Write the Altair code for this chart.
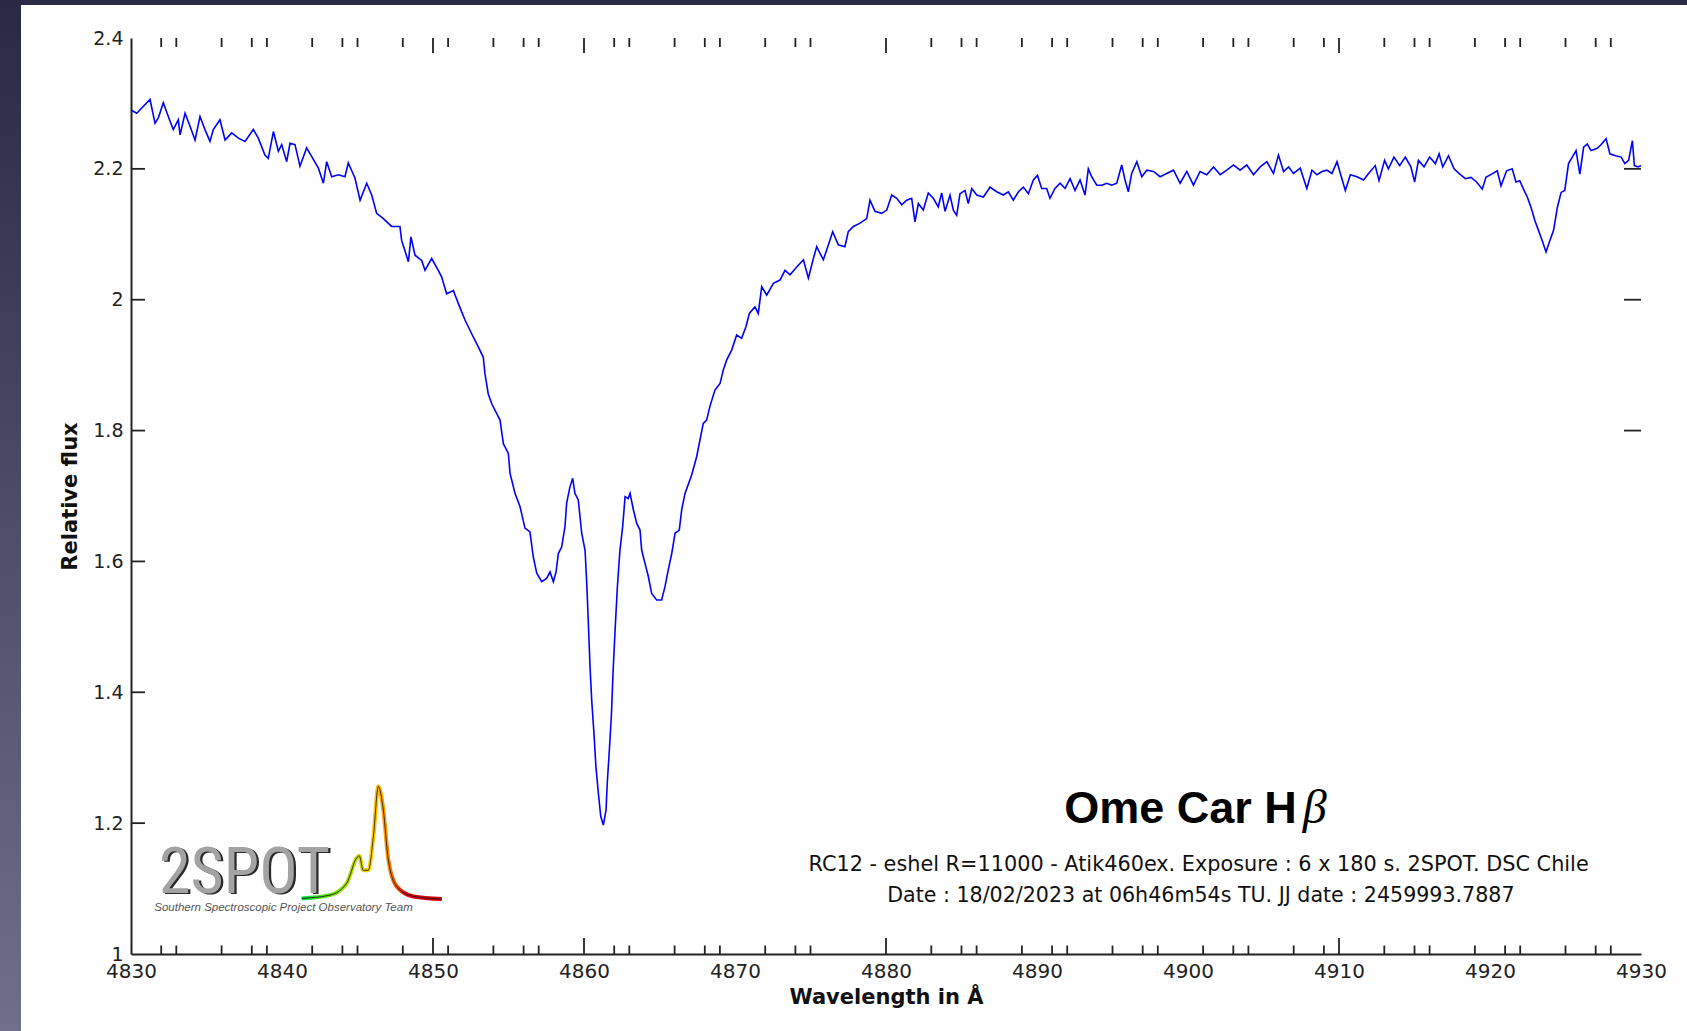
import altair as alt
import pandas as pd

# ---------------- data ----------------
wavelength = [
    4830.00, 4830.38, 4830.71, 4831.26, 4831.59, 4831.81, 4832.14, 4832.47, 4832.80, 4833.13,
    4833.25, 4833.58, 4833.91, 4834.24, 4834.57, 4834.90, 4835.23, 4835.45, 4835.89, 4836.23,
    4836.67, 4837.11, 4837.55, 4838.10, 4838.43, 4838.87, 4839.09, 4839.43, 4839.76, 4839.98,
    4840.31, 4840.53, 4840.86, 4841.19, 4841.63, 4841.96, 4842.41, 4842.74, 4842.96, 4843.29,
    4843.73, 4844.17, 4844.39, 4844.83, 4845.17, 4845.61, 4845.94, 4846.27, 4846.71, 4847.26,
    4847.81, 4847.92, 4848.37, 4848.54, 4848.81, 4849.25, 4849.47, 4849.91, 4850.35, 4850.57,
    4850.90, 4851.35, 4851.68, 4852.12, 4852.56, 4853.00, 4853.33, 4853.44, 4853.66, 4853.89,
    4854.44, 4854.66, 4854.99, 4855.10, 4855.43, 4855.76, 4856.09, 4856.42, 4856.64, 4856.87,
    4857.20, 4857.53, 4857.75, 4857.97, 4858.15, 4858.30, 4858.52, 4858.74, 4858.85, 4859.07,
    4859.25, 4859.40, 4859.62, 4859.85, 4860.07, 4860.18, 4860.28, 4860.40, 4860.51, 4860.66,
    4860.79, 4860.95, 4861.11, 4861.28, 4861.46, 4861.54, 4861.68, 4861.81, 4861.94, 4862.07,
    4862.21, 4862.38, 4862.56, 4862.72, 4862.93, 4863.05, 4863.27, 4863.49, 4863.71, 4863.82,
    4864.04, 4864.26, 4864.48, 4864.81, 4865.14, 4865.36, 4865.58, 4865.81, 4866.03, 4866.31,
    4866.47, 4866.69, 4867.13, 4867.46, 4867.64, 4867.90, 4868.12, 4868.34, 4868.67, 4869.01,
    4869.23, 4869.45, 4869.78, 4870.11, 4870.44, 4870.73, 4870.95, 4871.32, 4871.54, 4871.77,
    4872.10, 4872.54, 4872.98, 4873.31, 4873.64, 4874.09, 4874.53, 4874.86, 4875.19, 4875.41,
    4875.85, 4876.07, 4876.47, 4876.84, 4877.28, 4877.50, 4877.84, 4878.28, 4878.72, 4878.94,
    4879.27, 4879.71, 4880.05, 4880.38, 4880.71, 4881.04, 4881.37, 4881.70, 4881.92, 4882.14,
    4882.47, 4882.80, 4883.13, 4883.46, 4883.69, 4883.91, 4884.24, 4884.46, 4884.68, 4884.90,
    4885.23, 4885.45, 4885.68, 4886.01, 4886.45, 4886.89, 4887.33, 4887.77, 4888.10, 4888.43,
    4888.77, 4889.10, 4889.43, 4889.76, 4890.03, 4890.31, 4890.64, 4890.86, 4891.19, 4891.53,
    4891.86, 4892.19, 4892.52, 4892.85, 4893.18, 4893.40, 4893.62, 4893.96, 4894.29, 4894.62,
    4894.95, 4895.28, 4895.61, 4895.83, 4896.05, 4896.27, 4896.61, 4896.94, 4897.27, 4897.71,
    4898.15, 4898.59, 4899.04, 4899.48, 4899.92, 4900.36, 4900.80, 4901.24, 4901.69, 4902.13,
    4902.57, 4903.01, 4903.45, 4903.89, 4904.34, 4904.78, 4905.22, 4905.66, 4905.99, 4906.33,
    4906.66, 4906.99, 4907.43, 4907.87, 4908.21, 4908.54, 4908.87, 4909.20, 4909.53, 4909.87,
    4910.09, 4910.42, 4910.75, 4911.19, 4911.63, 4911.96, 4912.40, 4912.65, 4913.02, 4913.27,
    4913.64, 4914.02, 4914.39, 4914.76, 4915.01, 4915.26, 4915.63, 4916.00, 4916.38, 4916.63,
    4916.87, 4917.25, 4917.62, 4918.00, 4918.37, 4918.74, 4919.11, 4919.49, 4919.73, 4920.11,
    4920.48, 4920.73, 4921.10, 4921.47, 4921.72, 4921.97, 4922.22, 4922.47, 4922.72, 4922.97,
    4923.21, 4923.46, 4923.71, 4923.96, 4924.21, 4924.46, 4924.71, 4924.95, 4925.20, 4925.45,
    4925.70, 4925.95, 4926.20, 4926.44, 4926.69, 4927.07, 4927.32, 4927.69, 4927.94, 4928.31,
    4928.69, 4928.93, 4929.18, 4929.43, 4929.56, 4929.81, 4930.00,
]
flux = [
    2.290, 2.285, 2.293, 2.306, 2.270, 2.278, 2.301, 2.280, 2.260, 2.275,
    2.252, 2.285, 2.265, 2.244, 2.280, 2.260, 2.242, 2.260, 2.275, 2.244,
    2.255, 2.247, 2.242, 2.260, 2.247, 2.221, 2.216, 2.257, 2.227, 2.237,
    2.211, 2.239, 2.237, 2.204, 2.232, 2.219, 2.201, 2.178, 2.211, 2.188,
    2.191, 2.188, 2.209, 2.186, 2.152, 2.178, 2.160, 2.132, 2.124, 2.112,
    2.112, 2.091, 2.058, 2.096, 2.068, 2.060, 2.045, 2.063, 2.045, 2.035,
    2.009, 2.014, 1.994, 1.969, 1.948, 1.928, 1.912, 1.887, 1.856, 1.841,
    1.816, 1.780, 1.765, 1.735, 1.704, 1.684, 1.651, 1.645, 1.607, 1.582,
    1.569, 1.574, 1.584, 1.569, 1.584, 1.612, 1.622, 1.653, 1.689, 1.714,
    1.727, 1.704, 1.694, 1.643, 1.617, 1.567, 1.511, 1.439, 1.388, 1.337,
    1.286, 1.246, 1.210, 1.197, 1.220, 1.261, 1.312, 1.363, 1.439, 1.500,
    1.561, 1.617, 1.653, 1.699, 1.696, 1.704, 1.679, 1.658, 1.648, 1.617,
    1.597, 1.577, 1.551, 1.541, 1.541, 1.561, 1.587, 1.612, 1.643, 1.648,
    1.679, 1.704, 1.732, 1.760, 1.781, 1.811, 1.816, 1.837, 1.862, 1.872,
    1.893, 1.908, 1.923, 1.946, 1.941, 1.959, 1.979, 1.989, 1.979, 2.020,
    2.007, 2.025, 2.030, 2.045, 2.038, 2.050, 2.061, 2.033, 2.063, 2.081,
    2.061, 2.076, 2.104, 2.084, 2.081, 2.104, 2.112, 2.117, 2.124, 2.152,
    2.135, 2.132, 2.137, 2.160, 2.155, 2.145, 2.152, 2.155, 2.119, 2.147,
    2.137, 2.163, 2.155, 2.142, 2.163, 2.135, 2.160, 2.137, 2.129, 2.162,
    2.167, 2.147, 2.170, 2.160, 2.157, 2.172, 2.165, 2.160, 2.165, 2.152,
    2.165, 2.172, 2.162, 2.183, 2.190, 2.170, 2.170, 2.155, 2.170, 2.178,
    2.170, 2.185, 2.167, 2.183, 2.160, 2.200, 2.188, 2.175, 2.175, 2.178,
    2.175, 2.178, 2.206, 2.183, 2.165, 2.193, 2.211, 2.188, 2.198, 2.196,
    2.188, 2.193, 2.198, 2.178, 2.196, 2.175, 2.196, 2.191, 2.203, 2.191,
    2.198, 2.206, 2.198, 2.206, 2.191, 2.203, 2.211, 2.193, 2.221, 2.196,
    2.203, 2.193, 2.201, 2.170, 2.198, 2.191, 2.196, 2.198, 2.193, 2.211,
    2.193, 2.167, 2.191, 2.188, 2.183, 2.193, 2.205, 2.182, 2.213, 2.200,
    2.218, 2.205, 2.218, 2.203, 2.180, 2.213, 2.203, 2.218, 2.208, 2.223,
    2.203, 2.220, 2.200, 2.192, 2.185, 2.187, 2.180, 2.169, 2.187, 2.192,
    2.197, 2.174, 2.197, 2.200, 2.180, 2.182, 2.169, 2.157, 2.141, 2.121,
    2.106, 2.090, 2.073, 2.090, 2.106, 2.141, 2.164, 2.167, 2.208, 2.218,
    2.228, 2.192, 2.233, 2.238, 2.228, 2.231, 2.236, 2.246, 2.223, 2.220,
    2.218, 2.208, 2.213, 2.243, 2.205, 2.203, 2.205,
]

x_labels = [4830, 4840, 4850, 4860, 4870, 4880, 4890, 4900, 4910, 4920, 4930]
y_labels = [1, 1.2, 1.4, 1.6, 1.8, 2, 2.2, 2.4]

minor_ticks = [4832, 4833, 4836, 4838, 4839, 4842, 4844, 4845, 4848, 4851, 4854, 4856,
               4857, 4862, 4863, 4866, 4868, 4869, 4872, 4874, 4875, 4883, 4885, 4886,
               4889, 4891, 4892, 4895, 4897, 4898, 4901, 4903, 4904, 4907, 4909, 4913,
               4915, 4916, 4919, 4921, 4922, 4925, 4927, 4928]
major_ticks = [4850, 4860, 4880, 4910]
left_ticks = [1.2, 1.4, 1.6, 1.8, 2.0, 2.2]
right_ticks = [1.8, 2.0, 2.2]

title_main = "Ome Car H"
title_beta = "β"
subtitle_1 = "RC12 - eshel R=11000 - Atik460ex. Exposure : 6 x 180 s. 2SPOT. DSC Chile"
subtitle_2 = "Date : 18/02/2023 at 06h46m54s TU. JJ date : 2459993.7887"
logo_word = "2SPOT"
logo_caption = "Southern Spectroscopic Project Observatory Team"

logo_wl = [4841.30, 4843.18, 4844.28, 4844.95, 4845.12, 4845.38, 4845.72, 4846.05,
           4846.38, 4846.71, 4847.04, 4847.60, 4848.70, 4850.58]
logo_flux = [1.085, 1.090, 1.108, 1.147, 1.150, 1.128, 1.128, 1.179,
             1.256, 1.220, 1.144, 1.103, 1.088, 1.084]

# ---------------- chart ----------------
W, H = 1510, 916
FONT = "DejaVu Sans"
INK = "#222222"

xs = alt.Scale(domain=[4830, 4930], nice=False, zero=False)
ys = alt.Scale(domain=[1, 2.4], nice=False, zero=False)

X_AX = alt.Axis(
    values=x_labels, format="d", title="Wavelength in Å", ticks=False, tickSize=0,
    grid=False, domainColor=INK, domainWidth=2, labelFont=FONT, labelFontSize=20,
    labelColor=INK, labelPadding=7, labelFlush=False, labelOverlap=False,
    titleFont=FONT, titleFontSize=21, titleFontWeight="bold", titleColor="#111",
    titlePadding=5)
Y_AX = alt.Axis(
    values=y_labels, format="~g", title="Relative flux", ticks=False, tickSize=0,
    grid=False, domainColor=INK, domainWidth=2, labelFont=FONT, labelFontSize=19,
    labelColor=INK, labelPadding=8, labelOverlap=False,
    titleFont=FONT, titleFontSize=21, titleFontWeight="bold", titleColor="#111",
    titlePadding=12)

xt = alt.X("wl:Q", scale=xs, axis=X_AX)
yt = alt.Y("flux:Q", scale=ys, axis=Y_AX)

one = pd.DataFrame({"k": [0]})

bg_left = alt.Chart(one).mark_rect(
    fill=alt.Gradient(gradient="linear", x1=0, x2=0, y1=0, y2=1,
                      stops=[alt.GradientStop(color="#2a2944", offset=0),
                             alt.GradientStop(color="#4a4964", offset=0.45),
                             alt.GradientStop(color="#706f89", offset=1)])
).encode(x=alt.value(-131), x2=alt.value(-110), y=alt.value(-38), y2=alt.value(H + 77))

bg_top = alt.Chart(one).mark_rect(fill="#2c2b47").encode(
    x=alt.value(-110), x2=alt.value(W + 46), y=alt.value(-38), y2=alt.value(-33))

spec = pd.DataFrame({"wl": wavelength, "flux": flux})
line = alt.Chart(spec).mark_line(color="#0000ff", strokeWidth=1.6).encode(x=xt, y=yt)

minor_df = pd.DataFrame({"wl": minor_ticks})
major_df = pd.DataFrame({"wl": major_ticks})
tick_style = dict(color=INK, strokeWidth=1.8)

bot_minor = alt.Chart(minor_df).mark_rule(**tick_style).encode(
    x=xt, y=alt.value(H), y2=alt.value(H - 8.5))
bot_major = alt.Chart(major_df).mark_rule(**tick_style).encode(
    x=xt, y=alt.value(H), y2=alt.value(H - 16))
top_minor = alt.Chart(minor_df).mark_rule(**tick_style).encode(
    x=xt, y=alt.value(0), y2=alt.value(9))
top_major = alt.Chart(major_df).mark_rule(**tick_style).encode(
    x=xt, y=alt.value(0), y2=alt.value(15))

left_t = alt.Chart(pd.DataFrame({"flux": left_ticks})).mark_rule(**tick_style).encode(
    y=yt, x=alt.value(0), x2=alt.value(14))
right_t = alt.Chart(pd.DataFrame({"flux": right_ticks})).mark_rule(**tick_style).encode(
    y=yt, x=alt.value(W - 17), x2=alt.value(W))


def text_layer(txt, wl, fl, **kw):
    return alt.Chart(one).mark_text(**kw).encode(
        x=xt, y=yt, text=alt.value(txt)
    ).transform_calculate(wl=str(wl), flux=str(fl))


t_main = text_layer(title_main, 4907.2, 1.2007, align="right", baseline="alphabetic",
                    font="Liberation Sans", fontSize=45, fontWeight="bold", color="#000")
t_beta = text_layer(title_beta, 4907.6, 1.2007, align="left", baseline="alphabetic",
                    font="Liberation Serif", fontSize=48, fontStyle="italic", color="#000")
t_sub1 = text_layer(subtitle_1, 4900.7, 1.1273, align="center", baseline="alphabetic",
                    font=FONT, fontSize=20.8, color="#111")
t_sub2 = text_layer(subtitle_2, 4900.85, 1.0795, align="center", baseline="alphabetic",
                    font=FONT, fontSize=20.6, color="#111")

LOGO_FONT = "Liberation Sans Narrow, Roboto Condensed, Liberation Sans"
logo_shadow = text_layer(logo_word, 4832.0, 1.0912, align="left", baseline="alphabetic",
                         font=LOGO_FONT, fontSize=64, color="#2a2a2a")
logo_text = text_layer(logo_word, 4831.85, 1.0932, align="left", baseline="alphabetic",
                       font=LOGO_FONT, fontSize=64, color="#a3a3a3")
logo_cap = text_layer(logo_caption, 4840.1, 1.0657, align="center", baseline="alphabetic",
                      font="Liberation Sans", fontSize=11.5, fontStyle="italic", color="#555")

logo_df = pd.DataFrame({"wl": logo_wl, "flux": logo_flux})
logo_color = alt.Chart(logo_df).mark_line(
    strokeWidth=4, interpolate="monotone",
    stroke=alt.Gradient(gradient="linear", x1=0, x2=1, y1=0, y2=0,
                        stops=[alt.GradientStop(color="#00e040", offset=0),
                               alt.GradientStop(color="#9de000", offset=0.3),
                               alt.GradientStop(color="#ffd000", offset=0.5),
                               alt.GradientStop(color="#ff8a00", offset=0.62),
                               alt.GradientStop(color="#e00000", offset=0.75),
                               alt.GradientStop(color="#d00000", offset=1)])
).encode(x=xt, y=yt)
logo_core = alt.Chart(logo_df).mark_line(strokeWidth=0.8, color="#111", interpolate="monotone").encode(
    x=xt, y=yt)

chart = alt.layer(
    bg_left, bg_top, line, bot_minor, bot_major, top_minor, top_major, left_t, right_t,
    t_main, t_beta, t_sub1, t_sub2, logo_shadow, logo_text, logo_cap, logo_color, logo_core
).properties(
    width=W, height=H, background="white", autosize="none",
    padding={"left": 131, "top": 38, "right": 46, "bottom": 77},
).configure_view(strokeWidth=0)

chart.save("out.html", embed_options={"renderer": "svg", "actions": False})
